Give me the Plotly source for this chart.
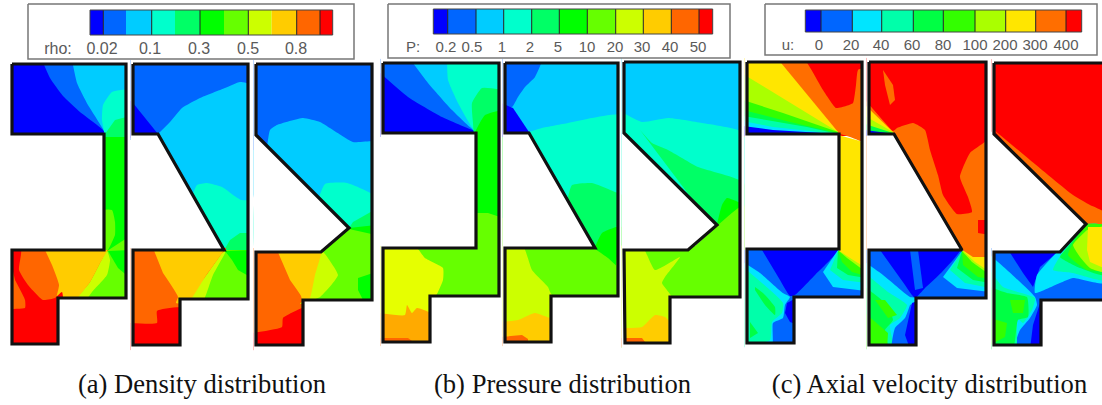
import plotly.graph_objects as go

# ---------- legend data ----------
RHO_COLORS = ["#0000ff", "#0066ff", "#00ccff", "#00ffcc", "#00ff66", "#00ff00", "#66ff00", "#ccff00", "#ffcc00", "#ff6600", "#ff0000"]
P_COLORS = RHO_COLORS
U_COLORS = ["#0000ff", "#0066ff", "#00e5ff", "#00ffaa", "#00ff44", "#33ff00", "#aaff00", "#ffe600", "#ff6e00", "#ff0000"]

RHO_EDGES = [90, 103.3, 126, 151.7, 175, 200, 224, 248.3, 271.7, 296.7, 320, 332.7]
RHO_RULED = [103.3, 151.7, 200, 248.3, 296.7, 320]
RHO_TICKS = ["rho:", "0.02", "0.1", "0.3", "0.5", "0.8"]
RHO_TICK_X = [58, 102, 150, 199, 248, 296]

P_EDGES = [433.3, 447.7, 476, 503.7, 531.7, 559.3, 587.3, 615.7, 643.3, 671.3, 699, 712.7]
P_RULED = P_EDGES[1:-1]
P_TICKS = ["P:", "0.2", "0.5", "1", "2", "5", "10", "20", "30", "40", "50"]
P_TICK_X = [413, 446, 472, 502, 530, 558, 587, 615, 642, 670, 698]

U_EDGES = [805.3, 821, 852.3, 881.7, 913.3, 943.3, 975, 1005.7, 1035.7, 1066, 1081.7]
U_RULED = U_EDGES[1:-1]
U_TICKS = ["u:", "0", "20", "40", "60", "80", "100", "200", "300", "400"]
U_TICK_X = [788, 819, 851, 881, 912, 943, 975, 1005, 1035, 1066]

CAPTIONS = ["(a) Density distribution", "(b) Pressure distribution", "(c) Axial velocity distribution"]
CAPTION_X = [202, 562.5, 929.5]

# ---------- outlines of the nine panels ----------
OUT_A1 = [(12, 64), (12, 134), (104, 134), (104, 250), (12, 250), (12, 344), (58, 344), (58, 298), (126, 298), (126, 64)]
OUT_A2 = [(133, 64), (133, 134), (158, 134), (224, 250), (133, 250), (133, 345), (180, 345), (180, 299), (248, 299), (248, 64)]
OUT_A3 = [(256, 64), (256, 135), (349, 228), (321, 252), (256, 252), (256, 345), (303, 345), (303, 300), (372, 300), (372, 64)]
OUT_B1 = [(383, 63), (383, 133), (476, 133), (476, 248), (383, 248), (383, 342), (430, 342), (430, 296), (499, 296), (499, 63)]
OUT_B2 = [(505, 63), (505, 133), (529, 133), (595, 248), (505, 248), (505, 342), (551, 342), (551, 296), (618, 296), (618, 63)]
OUT_B3 = [(624, 62), (624, 133), (717, 225), (688, 250), (624, 250), (625, 343), (670, 343), (670, 297), (740, 297), (740, 62)]
OUT_C1 = [(747, 62), (747, 134), (839, 134), (839, 249), (747, 249), (747, 343), (794, 343), (794, 297), (862, 297), (862, 62)]
OUT_C2 = [(869, 62), (869, 134), (894, 134), (962, 250), (869, 250), (869, 345), (916, 345), (916, 298), (986, 298), (986, 62)]
OUT_C3 = [(994, 63), (994, 134), (1086, 224), (1060, 252), (994, 252), (994, 345), (1041, 345), (1041, 300), (1112, 300), (1112, 63)]

# ---------- contour bands: (level, boundary) ----------
BANDS_A1 = [
    (0, [(8, 60), (130, 60), (130, 136), (8, 136)]),
    (1, [(42, 60), (50, 78), (63, 96), (80, 112), (104, 131), (104, 136), (130, 136), (130, 60)]),
    (2, [(72, 60), (77, 83), (88, 105), (104, 131), (104, 136), (130, 136), (130, 60)]),
    (3, [(130, 89), (112, 92), (103, 105), (102, 120), (104, 131), (104, 136), (130, 136)]),
    (4, [(105, 134), (115, 120), (130, 116), (130, 140), (100, 140)]),
    (5, [(100, 137), (130, 137), (130, 252), (100, 252)]),
    (6, [(100, 210), (112, 210), (115, 222), (115, 235), (107, 251), (100, 251)]),
    (9, [(8, 250), (130, 250), (130, 348), (8, 348)]),
    (6, [(107, 251), (130, 236), (130, 302), (80, 302)]),
    (5, [(108, 251), (130, 250), (130, 278), (118, 268)]),
    (7, [(73, 302), (90, 282), (100, 263), (107, 251), (110, 260), (107, 275), (92, 292), (85, 302)]),
    (8, [(45, 250), (107, 250), (107, 251), (100, 263), (90, 282), (73, 302), (56, 302), (59, 285), (52, 265)]),
    (10, [(8, 250), (21, 250), (19, 270), (28, 285), (43, 300), (55, 298), (62, 292), (62, 350), (8, 350), (8, 310), (25, 308), (25, 300), (15, 280)]),
]
BANDS_A2 = [
    (1, [(129, 60), (252, 60), (252, 140), (129, 140)]),
    (0, [(129, 100), (133, 103), (158, 134), (158, 138), (129, 138)]),
    (2, [(158, 134), (170, 122), (182, 108), (200, 98), (225, 88), (240, 82), (252, 85), (252, 200), (192, 200), (150, 140)]),
    (3, [(192, 196), (197, 185), (207, 183), (222, 187), (236, 197), (241, 200), (252, 201), (252, 250), (224, 252), (180, 200)]),
    (4, [(223, 252), (230, 240), (240, 233), (252, 233), (252, 252)]),
    (9, [(129, 248), (226, 248), (226, 350), (129, 350)]),
    (6, [(225, 250), (252, 250), (252, 303), (195, 303)]),
    (5, [(225, 251), (252, 250), (252, 278), (238, 270), (232, 260)]),
    (7, [(225, 251), (225, 253), (213, 275), (202, 303), (186, 303), (205, 277), (222, 253)]),
    (8, [(153, 248), (225, 248), (222, 253), (205, 277), (188, 303), (176, 303), (178, 297), (163, 273)]),
    (10, [(129, 323), (157, 323), (157, 311), (184, 308), (184, 350), (129, 350)]),
]
BANDS_A3 = [
    (1, [(252, 60), (376, 60), (376, 150), (252, 150)]),
    (2, [(267, 147), (270, 130), (277, 125), (303, 118), (320, 122), (333, 130), (353, 142), (376, 142), (376, 205), (318, 205), (262, 140)]),
    (3, [(318, 200), (325, 184), (347, 183), (376, 197), (376, 235), (345, 232), (300, 200)]),
    (4, [(349, 228), (353, 222), (376, 209), (376, 228)]),
    (5, [(349, 228), (376, 225), (376, 237), (352, 232)]),
    (9, [(252, 248), (325, 248), (325, 350), (252, 350)]),
    (6, [(322, 250), (349, 229), (376, 235), (376, 304), (303, 304)]),
    (7, [(321, 250), (325, 254), (338, 275), (320, 297), (300, 304), (308, 296)]),
    (8, [(277, 250), (321, 250), (315, 275), (310, 298), (303, 304), (301, 296), (290, 280)]),
    (5, [(376, 272), (358, 278), (358, 290), (365, 304), (376, 304)]),
    (10, [(252, 333), (282, 327), (283, 318), (302, 308), (307, 308), (307, 350), (252, 350)]),
]
BANDS_B1 = [
    (0, [(379, 59), (503, 59), (503, 137), (379, 137)]),
    (1, [(379, 72), (408, 97), (442, 117), (475, 131), (503, 137), (503, 59), (379, 59)]),
    (2, [(410, 59), (428, 83), (452, 110), (475, 131), (503, 137), (503, 59)]),
    (3, [(447, 59), (448, 80), (458, 103), (475, 131), (503, 137), (503, 59)]),
    (4, [(503, 90), (482, 88), (472, 103), (473, 123), (475, 138), (503, 138)]),
    (5, [(475, 132), (485, 115), (503, 110), (503, 113), (503, 138), (470, 138)]),
    (5, [(470, 138), (503, 138), (503, 222), (470, 222)]),
    (6, [(470, 213), (488, 213), (503, 218), (503, 300), (470, 300)]),
    (6, [(379, 246), (503, 246), (503, 300), (379, 300)]),
    ("#e6ff00", [(379, 246), (415, 246), (425, 258), (443, 268), (443, 280), (438, 292), (434, 300), (434, 346), (379, 346)]),
    ("#ffaa00", [(379, 313), (405, 315), (407, 305), (412, 313), (417, 308), (434, 315), (434, 346), (379, 346)]),
    ("#ff6600", [(379, 338), (408, 338), (412, 341), (412, 346), (379, 346)]),
]
BANDS_B2 = [
    (2, [(501, 59), (622, 59), (622, 136), (501, 136)]),
    (1, [(501, 59), (542, 59), (535, 77), (525, 87), (518, 97), (512, 107), (501, 105)]),
    (0, [(501, 103), (513, 108), (529, 132), (529, 137), (501, 137)]),
    (3, [(529, 132), (542, 128), (568, 123), (592, 118), (622, 115), (622, 200), (555, 200), (527, 136)]),
    (4, [(568, 197), (572, 185), (592, 183), (615, 192), (622, 195), (622, 250), (590, 250), (555, 195)]),
    (6, [(501, 246), (600, 246), (622, 260), (622, 300), (501, 300)]),
    (5, [(595, 247), (602, 233), (616, 227), (622, 227), (622, 270), (608, 258), (595, 249)]),
    (7, [(501, 246), (523, 246), (532, 270), (548, 287), (550, 292), (555, 300), (555, 346), (501, 346)]),
    (8, [(501, 322), (518, 320), (535, 313), (550, 318), (555, 318), (555, 346), (501, 346)]),
    (9, [(501, 337), (522, 335), (528, 339), (528, 346), (501, 346)]),
]
BANDS_B3 = [
    (2, [(620, 58), (744, 58), (744, 140), (620, 140)]),
    (3, [(620, 111), (642, 122), (668, 118), (702, 123), (744, 133), (744, 230), (700, 230), (620, 130)]),
    (4, [(640, 130), (652, 143), (668, 150), (698, 167), (744, 183), (744, 250), (717, 232)]),
    (5, [(717, 224), (722, 205), (727, 198), (744, 205), (744, 210), (717, 230)]),
    (6, [(717, 226), (744, 205), (744, 301), (674, 301), (674, 347), (620, 347), (620, 246), (695, 246)]),
    (7, [(620, 246), (642, 246), (655, 270), (680, 257), (665, 277), (662, 283), (674, 300), (674, 347), (620, 347)]),
    (8, [(620, 328), (642, 327), (655, 315), (665, 317), (674, 327), (674, 347), (620, 347)]),
    (9, [(620, 338), (642, 338), (645, 342), (645, 347), (620, 347)]),
]
BANDS_C1 = [
    (9, [(743, 58), (866, 58), (866, 136), (743, 136)]),
    (8, [(777, 58), (803, 58), (823, 90), (836, 108), (846, 106), (853, 103), (856, 85), (858, 70), (866, 68), (866, 145), (860, 141), (840, 134), (743, 136), (743, 110)]),
    (7, [(743, 58), (777, 58), (838, 132), (838, 136), (743, 136)]),
    (6, [(743, 74), (838, 132), (838, 136), (743, 136)]),
    (5, [(743, 100), (783, 113), (838, 132), (838, 136), (743, 136)]),
    (4, [(743, 110), (790, 122), (838, 133), (838, 136), (743, 136)]),
    (3, [(743, 116), (807, 127), (838, 134), (743, 136)]),
    (2, [(743, 121), (773, 127), (838, 134), (743, 136)]),
    (0, [(743, 126), (773, 130), (838, 134), (743, 136)]),
    (7, [(835, 134), (860, 141), (866, 145), (866, 252), (835, 252)]),
    (1, [(743, 250), (840, 250), (866, 262), (866, 301), (798, 301), (798, 347), (743, 347)]),
    (0, [(762, 250), (838, 250), (815, 275), (795, 295), (790, 296), (780, 280)]),
    (2, [(838, 250), (823, 272), (833, 287), (866, 291), (866, 250)]),
    (3, [(838, 251), (830, 270), (843, 280), (866, 283), (866, 250)]),
    (4, [(838, 251), (837, 268), (848, 275), (866, 278), (866, 250)]),
    (5, [(838, 251), (842, 262), (852, 272), (866, 276), (866, 250)]),
    (6, [(839, 251), (847, 258), (866, 272), (866, 250)]),
    (7, [(838, 250), (866, 250), (866, 268), (850, 258)]),
    (2, [(743, 262), (760, 273), (783, 293), (790, 297), (785, 305), (783, 318), (773, 323), (772, 347), (743, 347)]),
    (3, [(743, 267), (783, 303), (782, 313), (772, 322), (770, 340), (743, 347)]),
    (4, [(755, 287), (763, 293), (775, 307), (775, 315), (765, 305), (755, 290)]),
    (4, [(750, 322), (758, 333), (750, 338)]),
    (0, [(787, 303), (798, 297), (798, 325), (790, 322), (785, 313)]),
]
BANDS_C2 = [
    (8, [(865, 58), (990, 58), (990, 254), (865, 254)]),
    (9, [(865, 58), (990, 58), (990, 137), (970, 153), (960, 177), (968, 197), (972, 212), (957, 214), (943, 195), (938, 175), (930, 150), (925, 130), (913, 123), (897, 128), (893, 131), (865, 100)]),
    (9, [(978, 220), (990, 220), (990, 235), (978, 233)]),
    (8, [(883, 70), (893, 85), (895, 100), (890, 105), (885, 85)]),
    (8, [(865, 100), (893, 132), (865, 136)]),
    (7, [(865, 105), (893, 132), (893, 136), (865, 136)]),
    (6, [(865, 116), (893, 132), (893, 136), (865, 136)]),
    (4, [(865, 124), (893, 133), (865, 136)]),
    (0, [(865, 130), (895, 134), (895, 136), (865, 136)]),
    (1, [(865, 250), (960, 250), (990, 256), (990, 302), (920, 302), (920, 349), (865, 349)]),
    (0, [(880, 250), (960, 250), (942, 272), (925, 288), (915, 298), (905, 285)]),
    (1, [(910, 250), (918, 250), (923, 288), (915, 290)]),
    (2, [(962, 251), (943, 277), (957, 288), (990, 292), (990, 250)]),
    (3, [(962, 251), (950, 270), (965, 283), (990, 288), (990, 250)]),
    (4, [(962, 251), (957, 268), (973, 280), (990, 283), (990, 250)]),
    (5, [(962, 251), (963, 265), (978, 277), (990, 279), (990, 250)]),
    (6, [(962, 251), (972, 262), (990, 275), (990, 250)]),
    (7, [(962, 250), (973, 257), (990, 257), (990, 272), (975, 262)]),
    (8, [(961, 249), (990, 249), (990, 257), (973, 257)]),
    (2, [(865, 262), (883, 275), (910, 297), (916, 298), (920, 349), (865, 349)]),
    (3, [(865, 273), (888, 292), (907, 305), (900, 318), (890, 325), (893, 349), (865, 349)]),
    (4, [(865, 287), (885, 303), (893, 320), (885, 330), (888, 349), (865, 349)]),
    (5, [(875, 300), (885, 300), (897, 315), (888, 318)]),
    (5, [(865, 313), (888, 333), (887, 349), (865, 349)]),
    (1, [(920, 300), (920, 349), (892, 349), (895, 328), (905, 318), (910, 305)]),
    (0, [(912, 303), (920, 300), (920, 349), (910, 349), (905, 335)]),
]
BANDS_C3 = [
    (9, [(990, 59), (1104, 59), (1104, 215), (1060, 215), (990, 130)]),
    (8, [(994, 130), (1030, 160), (1073, 195), (1090, 205), (1104, 212), (1104, 232), (1082, 232)]),
    (1, [(990, 248), (1065, 248), (1104, 230), (1104, 304), (1045, 304), (1045, 349), (990, 349)]),
    (0, [(1007, 248), (1060, 250), (1040, 267), (1033, 287), (1023, 273)]),
    (2, [(1059, 250), (1037, 275), (1035, 293), (1060, 283), (1073, 278), (1104, 283), (1104, 225), (1086, 224)]),
    (3, [(1062, 253), (1053, 270), (1073, 273), (1104, 280), (1104, 225), (1086, 224)]),
    (4, [(1068, 247), (1060, 257), (1080, 268), (1104, 275), (1104, 225), (1086, 224)]),
    (5, [(1073, 243), (1068, 255), (1087, 270), (1104, 270), (1104, 225), (1086, 224)]),
    (6, [(1087, 230), (1073, 245), (1080, 257), (1090, 268), (1104, 272), (1104, 226)]),
    (7, [(1088, 227), (1104, 227), (1104, 268), (1090, 262), (1087, 250)]),
    (2, [(990, 255), (1007, 270), (1035, 297), (1037, 305), (1030, 318), (1020, 330), (1012, 349), (990, 349)]),
    (3, [(990, 270), (1003, 287), (1035, 298), (1032, 310), (1023, 323), (1017, 318), (1016, 349), (990, 349)]),
    (4, [(990, 287), (1007, 293), (1027, 297), (1028, 317), (1018, 320), (1013, 349), (990, 349)]),
    (5, [(1010, 300), (1025, 300), (1023, 313), (1013, 313)]),
    (5, [(990, 318), (1007, 323), (1005, 337), (990, 345)]),
    (0, [(1041, 300), (1045, 300), (1045, 349), (1030, 349), (1033, 325)]),
]
PANELS = [
    (OUT_A1, BANDS_A1, RHO_COLORS), (OUT_A2, BANDS_A2, RHO_COLORS), (OUT_A3, BANDS_A3, RHO_COLORS),
    (OUT_B1, BANDS_B1, P_COLORS), (OUT_B2, BANDS_B2, P_COLORS), (OUT_B3, BANDS_B3, P_COLORS),
    (OUT_C1, BANDS_C1, U_COLORS), (OUT_C2, BANDS_C2, U_COLORS), (OUT_C3, BANDS_C3, U_COLORS),
]
LEGENDS = [
    (RHO_EDGES, RHO_COLORS, RHO_RULED, RHO_TICKS, RHO_TICK_X, (28, 354, 4, 59), (10, 35), 50, 16),
    (P_EDGES, P_COLORS, P_RULED, P_TICKS, P_TICK_X, (388, 730, 4, 58), (9, 34), 48, 15),
    (U_EDGES, U_COLORS, U_RULED, U_TICKS, U_TICK_X, (765, 1097, 4, 55), (10, 32), 46, 15),
]

fig = go.Figure()


def poly(xs, ys, color, curved=False):
    shape = dict(shape="spline", smoothing=0.45) if curved else dict(shape="linear")
    fig.add_trace(go.Scatter(x=xs, y=ys, mode="lines", fill="toself", fillcolor=color,
                             line=dict(width=0, **shape), hoverinfo="skip", showlegend=False))


def line(xs, ys, color, width):
    fig.add_trace(go.Scatter(x=xs, y=ys, mode="lines", line=dict(color=color, width=width),
                             hoverinfo="skip", showlegend=False))


# 1. all contour bands
for outline, bands, colors in PANELS:
    for level, pts in bands:
        color = level if isinstance(level, str) else colors[level]
        poly([p[0] for p in pts], [p[1] for p in pts], color, curved=len(pts) > 5)

# 2. white keyhole masks: each reaches to just short of the next panel
lefts = [min(p[0] for p in panel[0]) for panel in PANELS]
for i, (outline, _, _) in enumerate(PANELS):
    ox = [p[0] for p in outline] + [outline[0][0]]
    oy = [p[1] for p in outline] + [outline[0][1]]
    x0 = 0 if i == 0 else lefts[i] - 2.5
    x1 = lefts[i + 1] - 2.5 if i + 1 < len(PANELS) else 1120
    y0, y1 = 0, 368
    poly([x0, x1, x1, x0, x0] + ox + [x0], [y0, y0, y1, y1, y0] + oy + [y0], "#ffffff")

# 3. outlines on top
for outline, _, _ in PANELS:
    ox = [p[0] for p in outline] + [outline[0][0]]
    oy = [p[1] for p in outline] + [outline[0][1]]
    line(ox, oy, "#111111", 3.2)

for edges, colors, ruled, ticks, tick_x, box, bar, label_y, size in LEGENDS:
    bx0, bx1, by0, by1 = box
    poly([bx0, bx1, bx1, bx0, bx0], [by0, by0, by1, by1, by0], "#ffffff")
    line([bx0, bx1, bx1, bx0, bx0], [by0, by0, by1, by1, by0], "#777777", 1.5)
    t, b = bar
    for i, c in enumerate(colors):
        poly([edges[i], edges[i + 1], edges[i + 1], edges[i], edges[i]], [t, t, b, b, t], c)
    for r in ruled:
        line([r, r], [t, b], "#222222", 1)
    line([edges[0], edges[-1], edges[-1], edges[0], edges[0]], [t, t, b, b, t], "#444444", 1)
    fig.add_trace(go.Scatter(x=tick_x, y=[label_y] * len(tick_x), mode="text", text=ticks,
                             textposition="middle center", hoverinfo="skip", showlegend=False,
                             textfont=dict(family="Liberation Sans", size=size, color="#5a5a5a")))

fig.add_trace(go.Scatter(x=CAPTION_X, y=[386] * 3, mode="text", text=CAPTIONS,
                         textposition="middle center", hoverinfo="skip", showlegend=False,
                         textfont=dict(family="Liberation Serif", size=26.6, color="#111111")))

fig.update_layout(
    width=1102, height=405, margin=dict(l=0, r=0, t=0, b=0),
    plot_bgcolor="white", paper_bgcolor="white", showlegend=False,
    xaxis=dict(range=[0, 1102], visible=False, fixedrange=True),
    yaxis=dict(range=[405, 0], visible=False, fixedrange=True),
)
fig.write_html("out.html", config={"displayModeBar": False},
               post_script="document.body.style.margin='0';document.body.style.overflow='hidden';")
